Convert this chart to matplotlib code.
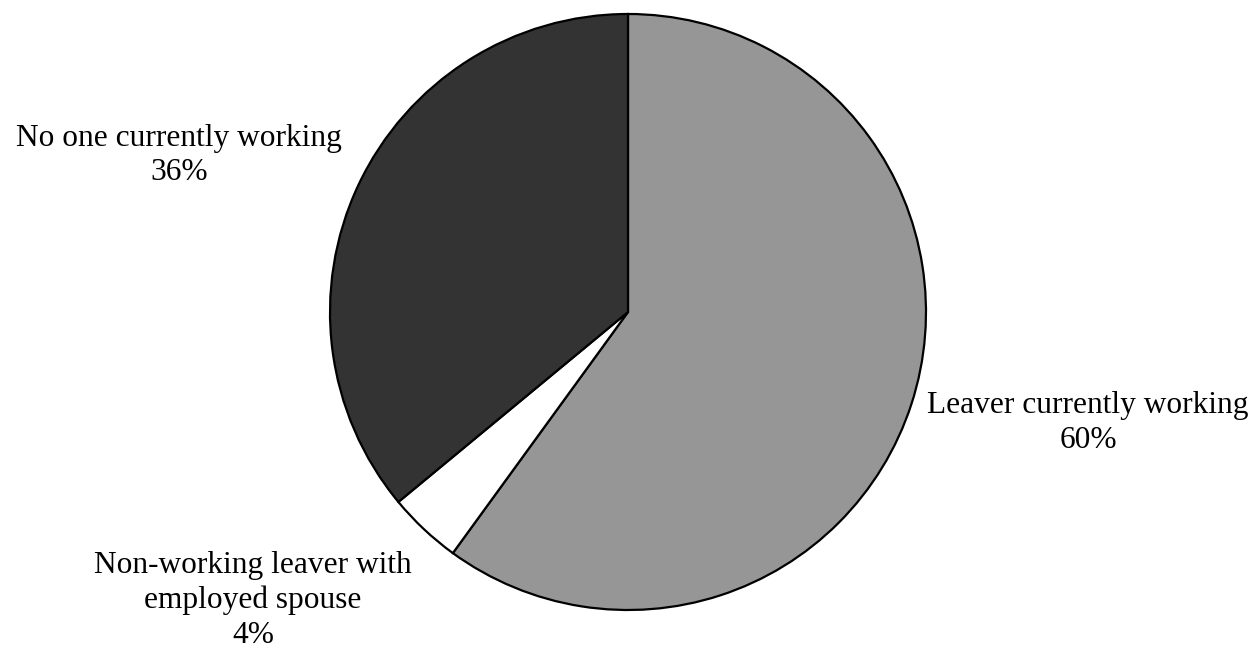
import matplotlib.pyplot as plt

# ---------- DATA ----------
labels = ["Leaver currently working", "Non-working leaver with\nemployed spouse", "No one currently working"]
shares = [60, 4, 36]
colors = ["#969696", "#ffffff", "#333333"]
# label anchor points (data units, pie radius = 1)
label_pos = [(1.544, -0.372), (-1.258, -0.968), (-1.507, 0.525)]
# --------------------------

plt.rcParams['font.family'] = ['Liberation Serif', 'DejaVu Serif']

W, H = 1259, 661
fig = plt.figure(figsize=(W / 100, H / 100), dpi=100)

cx, cy, r = 628, 312, 298
ax = fig.add_axes([(cx - r) / W, (H - cy - r) / H, 2 * r / W, 2 * r / H])
ax.pie(shares, colors=colors, startangle=90, counterclock=False, radius=1,
       wedgeprops=dict(edgecolor="black", linewidth=1.6))
ax.set_xlim(-1, 1)
ax.set_ylim(-1, 1)
ax.set_aspect("auto")
ax.axis("off")

for lab, val, (x, y) in zip(labels, shares, label_pos):
    ax.text(x, y, f"{lab}\n{val}%", ha="center", va="center", fontsize=22.6,
            linespacing=1.26, clip_on=False)

fig.savefig("out.png", dpi=100)
